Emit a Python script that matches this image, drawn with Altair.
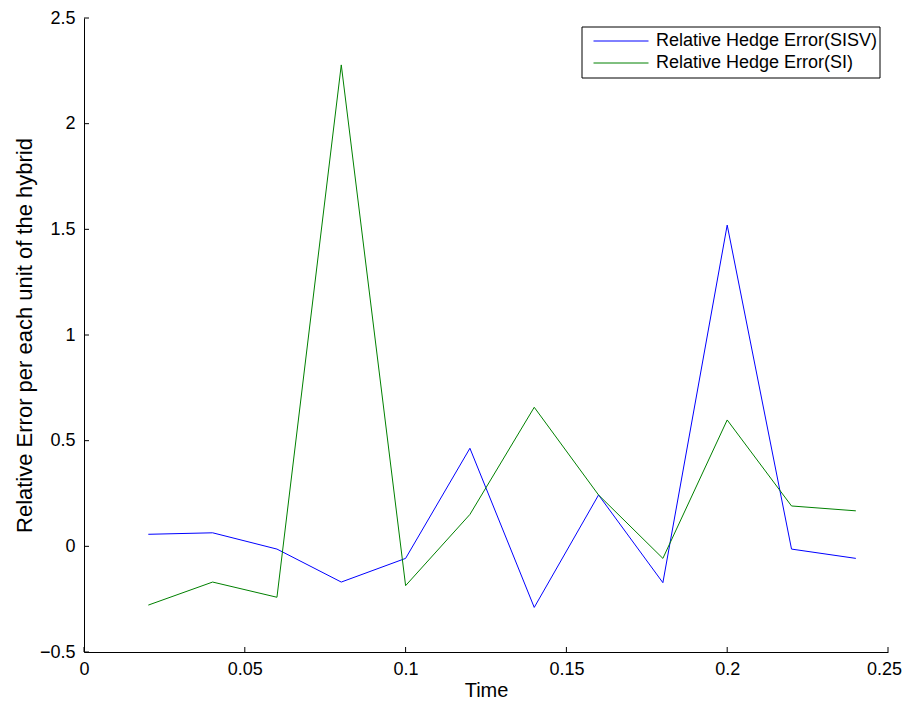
import altair as alt
import pandas as pd

time = [0.02, 0.04, 0.06, 0.08, 0.10, 0.12, 0.14, 0.16, 0.18, 0.20, 0.22, 0.24]
sisv = [0.057, 0.064, -0.013, -0.169, -0.057, 0.464, -0.289, 0.243, -0.172, 1.52, -0.013, -0.057]
si = [-0.278, -0.169, -0.241, 2.278, -0.186, 0.151, 0.658, 0.243, -0.057, 0.598, 0.191, 0.168]
series_names = ["Relative Hedge Error(SISV)", "Relative Hedge Error(SI)"]
series_colors = ["#0000FF", "#008000"]
x_ticks = [0, 0.05, 0.1, 0.15, 0.2, 0.25]
y_ticks = [-0.5, 0, 0.5, 1, 1.5, 2, 2.5]

rows = []
for t, a, b in zip(time, sisv, si):
    rows.append({"Time": t, "value": a, "series": series_names[0]})
    rows.append({"Time": t, "value": b, "series": series_names[1]})
df = pd.DataFrame(rows)

W, H = 804, 634
FONT = "Liberation Sans"

xscale = alt.Scale(domain=[0, 0.25], nice=False, zero=False)
yscale = alt.Scale(domain=[-0.5, 2.5], nice=False, zero=False)

# legend frame (decoration only)
frame = alt.Chart(pd.DataFrame({"k": [0]})).mark_rect(
    fill="white", stroke="black", strokeWidth=1
).encode(x=alt.value(498), x2=alt.value(796), y=alt.value(9), y2=alt.value(60))

lines = alt.Chart(df).mark_line(strokeWidth=1).encode(
    x=alt.X("Time:Q", scale=xscale,
            axis=alt.Axis(values=x_ticks, title="Time", tickSize=0, labelPadding=8,
                          format="~g",
                          labelOffset={"expr": "datum.value >= 0.25 ? -4 : 0"},
                          labelFontSize=18, titleFontSize=20, titleFontWeight="normal",
                          titlePadding=2, domainColor="black", labelColor="black",
                          titleColor="black", labelFont=FONT, titleFont=FONT,
                          labelFlush=False)),
    y=alt.Y("value:Q", scale=yscale,
            axis=alt.Axis(values=y_ticks, title="Relative Error per each unit of the hybrid",
                          format="~g",
                          tickSize=0, labelPadding=9, labelFontSize=18, titleFontSize=22,
                          titleFontWeight="normal", titlePadding=3, domainColor="black",
                          labelColor="black", titleColor="black", labelFont=FONT,
                          titleFont=FONT, labelFlush=False)),
    color=alt.Color("series:N", sort=series_names,
                    scale=alt.Scale(domain=series_names, range=series_colors),
                    legend=alt.Legend(title=None, orient="none", legendX=528, legendY=14,
                                      symbolType="M-5,0H5", symbolSize=121,
                                      symbolStrokeWidth=1, symbolFillColor="transparent",
                                      labelFontSize=18,
                                      labelFont=FONT, labelColor="black",
                                      padding=0, rowPadding=4, labelLimit=400,
                                      labelOffset=26)),
)

xt = pd.DataFrame({"t": x_ticks})
yt = pd.DataFrame({"t": y_ticks})

xticks = alt.Chart(xt).mark_rule(color="black", strokeWidth=1).encode(
    x=alt.X("t:Q", scale=xscale), y=alt.value(H), y2=alt.value(H - 5))
yticks = alt.Chart(yt).mark_rule(color="black", strokeWidth=1).encode(
    y=alt.Y("t:Q", scale=yscale), x=alt.value(0), x2=alt.value(5))

chart = alt.layer(frame, lines, xticks, yticks).properties(
    width=W, height=H,
    autosize=alt.AutoSizeParams(type="none"),
    padding={"left": 76, "top": 10, "right": 14, "bottom": 48},
).configure_view(stroke=None).configure_axis(grid=False)

chart.save("out.html", embed_options={"renderer": "svg", "actions": False})
